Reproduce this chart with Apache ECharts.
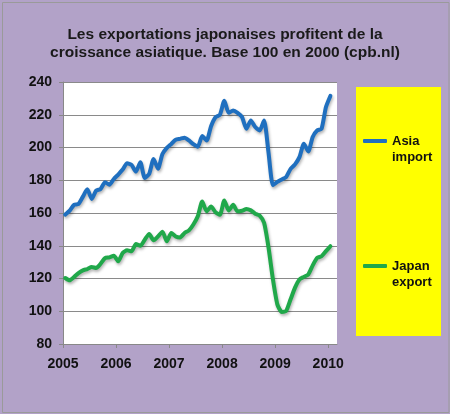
<!DOCTYPE html>
<html>
<head>
<meta charset="utf-8">
<script src="https://cdn.jsdelivr.net/npm/echarts@6/dist/echarts.min.js"></script>
<style>
html,body{margin:0;padding:0;background:#B3A3C8;}
#c{width:450px;height:414px;}
</style>
</head>
<body>
<div id="c"></div>
<script>
// Monthly data, Jan 2005 .. Jan 2010 (index 0..60)
const yearLabels = ['2005', '2006', '2007', '2008', '2009', '2010'];
const seriesNames = ['Asia\nimport', 'Japan\nexport'];
const asiaImport = [
  159, 161.4, 165, 165.5, 170, 174.5, 168.6, 173.7, 174.7, 178.8, 177.3, 180.8,
  183.5, 186.5, 190.4, 189.4, 185.3, 191, 181.4, 183.9, 193, 187, 196, 199.8,
  202.2, 204.7, 205.3, 206, 204.3, 202, 200.5, 207, 204.3, 213, 218.5, 220,
  228.5, 221.2, 222.6, 221.2, 218.6, 211.4, 216.5, 212.5, 210.4, 216.5, 197, 177,
  179, 180.5, 182, 187, 189.7, 194.1, 202.3, 197.6, 206.4, 210.4, 211.4, 224.7,
  231.5
];
const japanExport = [
  120.3, 118.9, 120.9, 123.3, 125, 125.8, 127, 126.4, 129, 132.5, 132.9, 133.9,
  130.5, 135.6, 137.2, 136.6, 141, 140, 143.7, 147.2, 143.3, 145.7, 148.6, 142.7,
  147.8, 145.7, 145.1, 147.8, 149.4, 153, 158, 167, 161, 164, 160.5, 159,
  167.7, 161.6, 165, 161, 161.4, 162.4, 161.6, 159.6, 158.4, 154, 139, 119.5,
  104.2, 99.6, 100.2, 107.3, 114.4, 119.4, 121, 122.5, 128, 132.6, 133.6, 136.7,
  139.7
];
const yTicks = [80, 100, 120, 140, 160, 180, 200, 220, 240];

const toPoints = arr => arr.map((v, i) => [i + 0.5, v]);
const yearTicks = yearLabels.map((y, i) => i * 12);

const chart = echarts.init(document.getElementById('c'), null, {renderer: 'canvas'});
const FONT = '"Liberation Sans", Arial, sans-serif';
chart.setOption({
  backgroundColor: '#B2A2C8',
  animation: false,
  title: {
    text: 'Les exportations japonaises profitent de la\ncroissance asiatique. Base 100 en 2000 (cpb.nl)',
    left: 'center',
    top: 21,
    textStyle: {fontFamily: FONT, fontSize: 15.5, fontWeight: 'bold', color: '#1a1a1a', lineHeight: 18}
  },
  grid: {
    left: 63, top: 82, right: 113, bottom: 70,
    show: true, backgroundColor: '#ffffff', borderWidth: 0
  },
  legend: {
    orient: 'vertical',
    left: 356,
    top: 87,
    backgroundColor: '#FFFF00',
    padding: [30, 4, 46, 7],
    itemGap: 77,
    itemWidth: 24,
    itemHeight: 4,
    icon: 'roundRect',
    formatter: name => ' \n' + name,
    textStyle: {fontFamily: FONT, fontSize: 13, fontWeight: 'bold', color: '#111', lineHeight: 16, width: 45},
    data: seriesNames
  },
  xAxis: {
    type: 'value',
    min: 0,
    max: 62,
    interval: 12,
    splitLine: {show: false},
    axisLine: {show: true, lineStyle: {color: '#888', width: 1}},
    axisTick: {show: true, length: 4, customValues: yearTicks, lineStyle: {color: '#888'}},
    axisLabel: {
      customValues: yearTicks,
      margin: 13,
      fontFamily: FONT, fontSize: 14, fontWeight: 'bold', color: '#111',
      formatter: v => yearLabels[Math.round(v / 12)] || ''
    }
  },
  yAxis: {
    type: 'value',
    min: yTicks[0],
    max: yTicks[yTicks.length - 1],
    interval: 20,
    splitLine: {show: true, lineStyle: {color: '#8a8a8a', width: 1}},
    axisLine: {show: true, lineStyle: {color: '#888', width: 1}},
    axisTick: {show: true, length: 4, lineStyle: {color: '#888'}},
    axisLabel: {margin: 11, fontFamily: FONT, fontSize: 14, fontWeight: 'bold', color: '#111'}
  },
  series: [
    {
      name: seriesNames[0], type: 'line', data: toPoints(asiaImport),
      showSymbol: false, symbol: 'none', smooth: 0.2,
      itemStyle: {color: '#1F6FBF'},
      lineStyle: {color: '#1F6FBF', width: 4, cap: 'round', join: 'round',
        shadowColor: 'rgba(0,0,0,0.3)', shadowBlur: 3, shadowOffsetX: 1, shadowOffsetY: 2}
    },
    {
      name: seriesNames[1], type: 'line', data: toPoints(japanExport),
      showSymbol: false, symbol: 'none', smooth: 0.2,
      itemStyle: {color: '#20A84A'},
      lineStyle: {color: '#20A84A', width: 4, cap: 'round', join: 'round',
        shadowColor: 'rgba(0,0,0,0.3)', shadowBlur: 3, shadowOffsetX: 1, shadowOffsetY: 2}
    }
  ],
  graphic: [{
    type: 'rect', left: 0, top: 0, z: 100, silent: true,
    shape: {x: 1.5, y: 1.5, width: 446.5, height: 410},
    style: {fill: 'none', stroke: '#9a9a9a', lineWidth: 1}
  }]
});
</script>
</body>
</html>
